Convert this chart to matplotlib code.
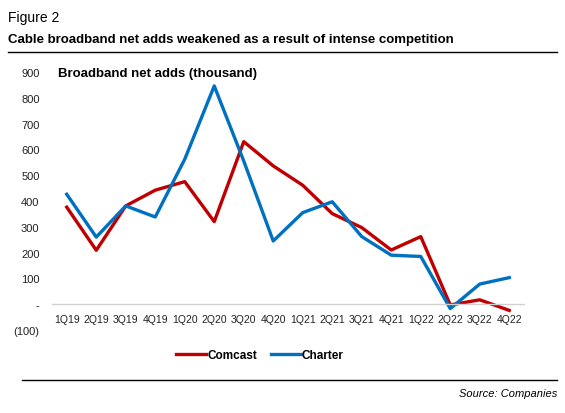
import matplotlib
matplotlib.use('Agg')
import matplotlib.pyplot as plt
from matplotlib.lines import Line2D

plt.rcParams['font.family'] = ['Liberation Sans', 'DejaVu Sans']

# Quarterly broadband net adds (thousand)
quarters = ['1Q19', '2Q19', '3Q19', '4Q19', '1Q20', '2Q20', '3Q20', '4Q20',
            '1Q21', '2Q21', '3Q21', '4Q21', '1Q22', '2Q22', '3Q22', '4Q22']
comcast = [376, 209, 381, 442, 475, 320, 630, 536,
           461, 351, 297, 210, 262, -3, 17, -24]
charter = [426, 260, 381, 338, 562, 846, 555, 245,
           355, 397, 262, 190, 185, -17, 78, 103]
yticks = [-100, 0, 100, 200, 300, 400, 500, 600, 700, 800, 900]
ytick_labels = ['(100)', '-', '100', '200', '300', '400', '500', '600', '700', '800', '900']

RED = '#C00000'
BLUE = '#0070C0'

fig = plt.figure(figsize=(5.65, 4.14), dpi=100)

# header
fig.text(8 / 565, 1 - 18 / 414, 'Figure 2', fontsize=10, va='center', ha='left')
fig.text(8 / 565, 1 - 40 / 414, 'Cable broadband net adds weakened as a result of intense competition',
         fontsize=9.5, fontweight='bold', va='center', ha='left')
fig.add_artist(Line2D([8 / 565, 557 / 565], [1 - 53 / 414, 1 - 53 / 414], color='black', lw=1.0))

ax = fig.add_axes([52 / 565, 1 - 331 / 414, 472 / 565, 258 / 414])
x = list(range(len(quarters)))
ax.plot(x, comcast, color=RED, lw=2.4, label='Comcast')
ax.plot(x, charter, color=BLUE, lw=2.4, label='Charter')

ax.set_xlim(-0.5, len(quarters) - 0.5)
ax.set_ylim(-100, 900)
ax.set_yticks(yticks)
ax.set_yticklabels(ytick_labels)
ax.set_xticks(x)
ax.set_xticklabels(quarters)

for side in ['top', 'right', 'left']:
    ax.spines[side].set_visible(False)
ax.spines['bottom'].set_position(('data', 0))
ax.spines['bottom'].set_color('#d0d0d0')
ax.spines['bottom'].set_linewidth(1.0)
ax.tick_params(axis='both', length=0, colors='#222222')
ax.tick_params(axis='x', pad=7, labelsize=7.5)
ax.tick_params(axis='y', pad=9, labelsize=8)

ax.text(58 / 565, 1 - 74 / 414, 'Broadband net adds (thousand)', transform=fig.transFigure,
        fontsize=9.5, fontweight='bold', va='center', ha='left')

leg = fig.legend(handles=ax.get_lines(), loc='center', bbox_to_anchor=(260 / 565, 1 - 356 / 414),
                 ncol=2, frameon=False, handlelength=2.5, handletextpad=0.1, columnspacing=1.2,
                 prop={'weight': 'bold', 'size': 8.5})

fig.add_artist(Line2D([22 / 565, 557 / 565], [1 - 381 / 414, 1 - 381 / 414], color='black', lw=1.0))
fig.text(557 / 565, 1 - 394 / 414, 'Source: Companies', fontsize=8, style='italic',
         ha='right', va='center')

fig.savefig('out.png', dpi=100)
